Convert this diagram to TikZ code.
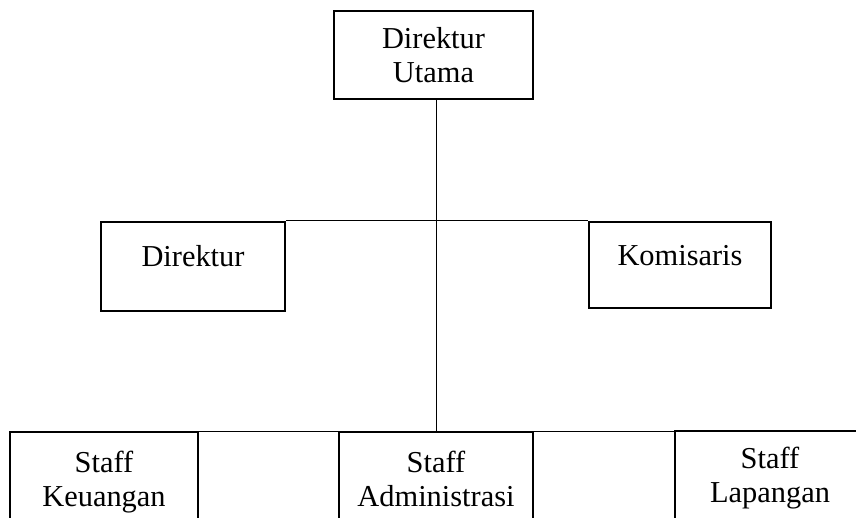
\documentclass[tikz,border=0pt]{standalone}
\usepackage{fontspec}
\setmainfont{Liberation Serif}
\usepackage{tikz}
\usetikzlibrary{positioning}
\tikzset{
  orgbox/.style={draw=black, line width=1pt, fill=white, align=center,
    font=\fontsize{15.2}{17}\selectfont, inner sep=2pt},
  orgmid/.style={orgbox, text height=10pt, text depth=10pt},
  orgstaff/.style={orgbox, text depth=3.3pt},
  orglink/.style={draw=black, line width=0.5pt}
}
\begin{document}
\begin{tikzpicture}[x=0.5pt,y=-0.5pt]
  \useasboundingbox (0,0) rectangle (856,518);
  \clip (0,0) rectangle (856,518);
  % top level
  \node[orgbox, minimum width=99.5pt, minimum height=44pt] (dirut) at (433.5,55) {Direktur\\Utama};
  % second level
  \node[orgmid, minimum width=92pt, minimum height=44.5pt] (dir) at (193,266.5) {Direktur};
  \node[orgmid, minimum width=91pt, minimum height=43pt] (kom) at (680,265) {Komisaris};
  % staff
  \node[orgstaff, minimum width=94pt, minimum height=50pt] (keu) at (104,482) {Staff\\Keuangan};
  \node[orgstaff, minimum width=97pt, minimum height=50pt] (adm) at (436,482) {Staff\\Administrasi};
  \node[orgstaff, minimum width=95pt, minimum height=47pt] (lap) at (770,478) {Staff\\Lapangan};
  % connectors
  \draw[orglink] (adm.north) -- (adm.north |- dirut.south);
  \draw[orglink] (dir.north east) -- (kom.north west);
  \draw[orglink] (keu.north east) -- (keu.north east -| lap.west);
\end{tikzpicture}
\end{document}
